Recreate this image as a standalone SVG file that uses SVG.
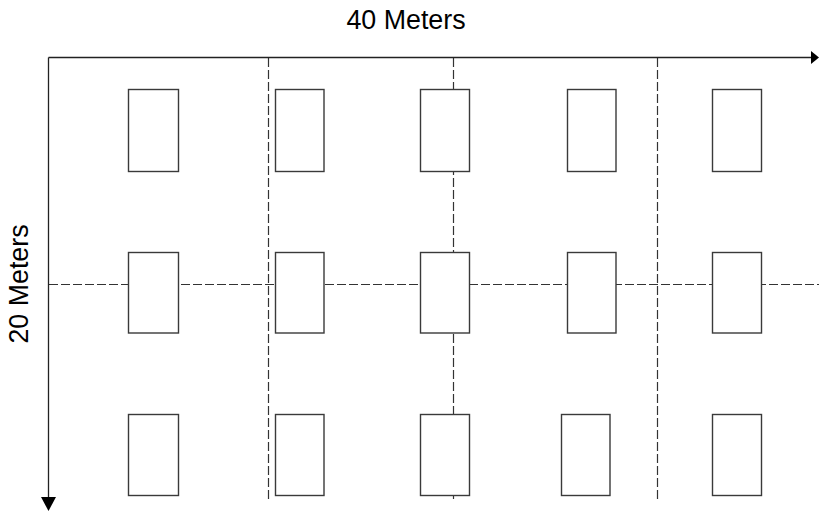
<svg xmlns="http://www.w3.org/2000/svg" width="819" height="512" viewBox="0 0 819 512">
<style>
.ax{stroke:#222;stroke-width:1.3;fill:none}
.dash{stroke:#333;stroke-width:1.2;fill:none;stroke-dasharray:9 3}
.box{fill:#fff;stroke:#3a3a3a;stroke-width:1.4}
.lbl{font-family:"Liberation Sans",Arial,sans-serif;font-size:26.8px;fill:#000}
</style>
<rect width="819" height="512" fill="#fff"/>
<g id="connectors">
<line class="dash" x1="268.5" y1="58" x2="268.5" y2="501"/>
<line class="dash" x1="453.5" y1="58" x2="453.5" y2="501"/>
<line class="dash" x1="657.5" y1="58" x2="657.5" y2="501"/>
<line class="dash" x1="49" y1="284.5" x2="819" y2="284.5"/>
<line class="ax" x1="48.5" y1="57.5" x2="812" y2="57.5"/>
<line class="ax" x1="48.5" y1="57.5" x2="48.5" y2="498"/>
<polygon points="811,51 819,57.5 811,64" fill="#000"/>
<polygon points="41,497 56,497 48.5,511" fill="#000"/>
</g>
<g id="labels">
<text class="lbl" x="406" y="29" text-anchor="middle">40 Meters</text>
<text class="lbl" transform="translate(28,284) rotate(-90)" text-anchor="middle">20 Meters</text>
</g>
<g id="r1c1"><rect class="box" x="128.5" y="89.5" width="50" height="82"/></g>
<g id="r1c2"><rect class="box" x="275.5" y="89.5" width="48.5" height="82"/></g>
<g id="r1c3"><rect class="box" x="420.5" y="89.5" width="49" height="82"/></g>
<g id="r1c4"><rect class="box" x="567.5" y="89.5" width="48.5" height="82"/></g>
<g id="r1c5"><rect class="box" x="712.5" y="89.5" width="49" height="82"/></g>
<g id="r2c1"><rect class="box" x="128.5" y="252.5" width="50" height="80.5"/></g>
<g id="r2c2"><rect class="box" x="275.5" y="252.5" width="48.5" height="80.5"/></g>
<g id="r2c3"><rect class="box" x="420.5" y="252.5" width="49" height="80.5"/></g>
<g id="r2c4"><rect class="box" x="567.5" y="252.5" width="48.5" height="80.5"/></g>
<g id="r2c5"><rect class="box" x="712.5" y="252.5" width="49" height="80.5"/></g>
<g id="r3c1"><rect class="box" x="128.5" y="414.5" width="50" height="81"/></g>
<g id="r3c2"><rect class="box" x="275.5" y="414.5" width="48.5" height="81"/></g>
<g id="r3c3"><rect class="box" x="420.5" y="414.5" width="49" height="81"/></g>
<g id="r3c4"><rect class="box" x="561.5" y="414.5" width="48.5" height="81"/></g>
<g id="r3c5"><rect class="box" x="712.5" y="414.5" width="49" height="81"/></g>
</svg>
